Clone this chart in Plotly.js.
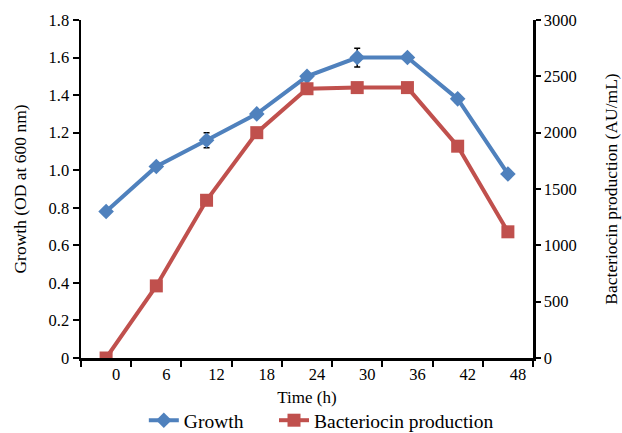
<!DOCTYPE html>
<html>
<head>
<meta charset="utf-8">
<script src="https://cdn.plot.ly/plotly-3.0.1.min.js"></script>
<style>html,body{margin:0;padding:0;background:#fff;}#chart{width:622px;height:433px;}</style>
</head>
<body>
<div id="chart"></div>
<script>
const timeLabels = ["0","6","12","18","24","30","36","42","48"];
const growth = [0.78, 1.02, 1.16, 1.30, 1.50, 1.60, 1.60, 1.38, 0.98];
const growthErr = [0.01, 0.01, 0.04, 0.01, 0.01, 0.05, 0.01, 0.02, 0.01];
const bacteriocin = [0, 640, 1400, 2000, 2390, 2400, 2400, 1880, 1120];
const leftTicks = [0, 0.2, 0.4, 0.6, 0.8, 1.0, 1.2, 1.4, 1.6, 1.8];
const leftTickText = ["0","0.2","0.4","0.6","0.8","1.0","1.2","1.4","1.6","1.8"];
const rightTicks = [0, 500, 1000, 1500, 2000, 2500, 3000];

const FONT = "Liberation Serif, Times New Roman, serif";

const traces = [
  {
    x: timeLabels, y: growth, name: "Growth", type: "scatter", mode: "lines+markers",
    line: {color: "#4F81BD", width: 4},
    marker: {symbol: "diamond", size: 12, color: "#4F81BD"},
    error_y: {type: "data", array: growthErr, visible: true, color: "#000", thickness: 1.5, width: 3},
    yaxis: "y", legend: "legend"
  },
  {
    x: timeLabels, y: bacteriocin, name: "Bacteriocin production", type: "scatter", mode: "lines+markers",
    line: {color: "#C0504D", width: 4},
    marker: {symbol: "square", size: 13, color: "#C0504D"},
    yaxis: "y2", legend: "legend2"
  }
];

const legendBase = {orientation: "h", xanchor: "left", y: -0.185, yanchor: "middle",
                    font: {family: FONT, size: 19.5, color: "#000"}, itemwidth: 30};

const layout = {
  width: 622, height: 433,
  margin: {l: 81, r: 89, t: 20, b: 75, autoexpand: false},
  paper_bgcolor: "#fff", plot_bgcolor: "#fff",
  font: {family: FONT, size: 16, color: "#000"},
  showlegend: true,
  legend: Object.assign({}, legendBase, {x: 0.139}),
  legend2: Object.assign({}, legendBase, {x: 0.427}),
  xaxis: {
    type: "category", range: [-0.5, 8.5], tickson: "boundaries", automargin: false,
    showline: true, linecolor: "#000", linewidth: 2.5,
    ticks: "outside", ticklen: 6, tickwidth: 2, tickcolor: "#000",
    ticklabelshift: 10,
    showgrid: false, zeroline: false,
    tickfont: {family: FONT, size: 16.5},
    title: {text: "Time (h)", font: {family: FONT, size: 17}, standoff: 8}
  },
  yaxis: {
    range: [0, 1.8], tickmode: "array", tickvals: leftTicks, ticktext: leftTickText, automargin: false,
    showline: true, linecolor: "#000", linewidth: 2.5,
    ticks: "outside", ticklen: 6, tickwidth: 2, tickcolor: "#000",
    showgrid: false, zeroline: false,
    tickfont: {family: FONT, size: 16.5},
    title: {text: "Growth (OD at 600 nm)", font: {family: FONT, size: 17.5}, standoff: 18}
  },
  yaxis2: {
    overlaying: "y", side: "right", range: [0, 3000], tickmode: "array", tickvals: rightTicks, automargin: false,
    showline: true, linecolor: "#000", linewidth: 2.5,
    ticks: "outside", ticklen: 5, tickwidth: 2, tickcolor: "#000",
    showgrid: false, zeroline: false,
    tickfont: {family: FONT, size: 16.5},
    title: {text: "Bacteriocin production (AU/mL)", font: {family: FONT, size: 17.5}, standoff: 29}
  }
};

Plotly.newPlot("chart", traces, layout, {displayModeBar: false, staticPlot: true});
</script>
</body>
</html>
